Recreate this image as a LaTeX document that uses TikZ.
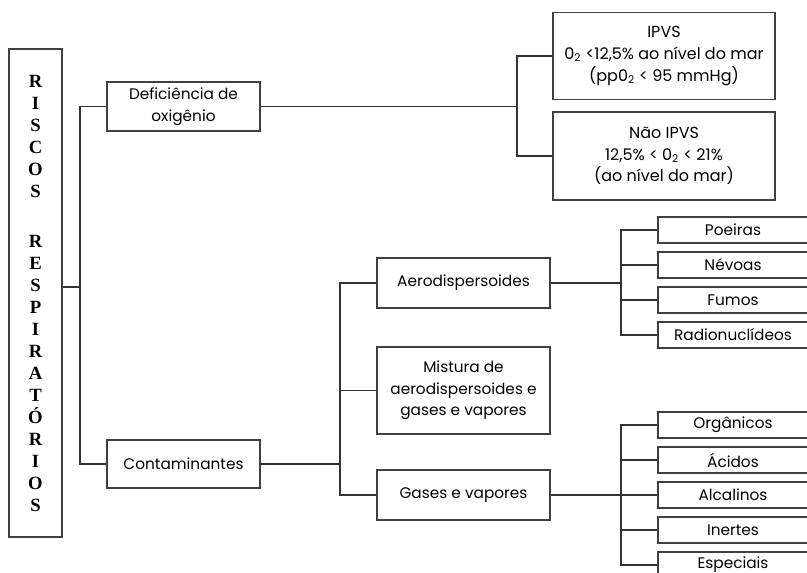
\documentclass[tikz,border=0pt]{standalone}
\usepackage{fontspec}
\setmainfont{Poppins}
\newfontfamily\riscosfont{Liberation Serif}
\usetikzlibrary{positioning}

\tikzset{
  box/.style={draw=black!75, line width=0.8pt, inner sep=0pt, align=center,
    font=\fontsize{11.5}{16.2}\selectfont},
  item/.style={box, minimum width=112.5pt, minimum height=19.5pt},
  wire/.style={draw=black!80, line width=0.8pt},
}

\begin{document}
\begin{tikzpicture}[x=0.75pt, y=-0.75pt]
      \path[use as bounding box] (0, 0) rectangle (807, 573);

      \node[box, minimum width=39.75pt, minimum height=366pt,
        font=\riscosfont\bfseries\fontsize{14}{16.5}\selectfont] (riscos) at (35.5, 293)
        {R\\I\\S\\C\\O\\S\\[21pt]R\\E\\S\\P\\I\\R\\A\\T\\Ó\\R\\I\\O\\S};

      \node[box, minimum width=114.75pt, minimum height=36.75pt] (defi) at (183.5, 106.5) {Deficiência de\\oxigênio};
      \node[box, minimum width=114.75pt, minimum height=36pt] (cont) at (183.5, 464) {Contaminantes};

      \node[box, minimum width=166.5pt, minimum height=65.25pt, font=\fontsize{12}{16.2}\selectfont] (ipvs) at (664, 56)
        {IPVS\\0\textsubscript{2} <12,5\% ao nível do mar\\(pp0\textsubscript{2} < 95 mmHg)};
      \node[box, minimum width=166.5pt, minimum height=66pt, font=\fontsize{12}{16.2}\selectfont] (nipvs) at (664, 156)
        {Não IPVS\\12,5\% < 0\textsubscript{2} < 21\%\\(ao nível do mar)};

      \node[box, minimum width=129.75pt, minimum height=37.5pt] (aero) at (463.5, 283) {Aerodispersoides};
      \node[box, minimum width=129.75pt, minimum height=65.25pt] (mist) at (463.5, 390.5) {Mistura de\\aerodispersoides e\\gases e vapores};
      \node[box, minimum width=129.75pt, minimum height=37.5pt] (gases) at (463.5, 495) {Gases e vapores};

      \foreach \name/\txt/\yy in {poe/Poeiras/230, nev/Névoas/265, fum/Fumos/300, rad/Radionuclídeos/335}
        \node[item] (\name) at (733, \yy) {\txt};
      \foreach \name/\txt/\yy in {org/Orgânicos/425, aci/Ácidos/460, alc/Alcalinos/495, ine/Inertes/530, esp/Especiais/565}
        \node[item] (\name) at (733, \yy) {\txt};

      % junctions
      \coordinate (j1) at (80, 287);
      \coordinate (j2) at (517, 106.5);
      \coordinate (j3) at (340, 464);
      \coordinate (j4) at (621, 283);
      \coordinate (j5) at (621, 495);

      \draw[wire] (j1 -| riscos.east) -- (j1);
      \foreach \n in {defi, cont}
        \draw[wire] (j1) |- (\n.west);

      \draw[wire] (defi.east) -- (j2);
      \foreach \n in {ipvs, nipvs}
        \draw[wire] (j2) |- (\n.west);

      \draw[wire] (cont.east) -- (j3);
      \foreach \n in {aero, mist, gases}
        \draw[wire] (j3) |- (\n.west);

      \draw[wire] (aero.east) -- (j4);
      \foreach \n in {poe, nev, fum, rad}
        \draw[wire] (j4) |- (\n.west);

      \draw[wire] (gases.east) -- (j5);
      \foreach \n in {org, aci, alc, ine, esp}
        \draw[wire] (j5) |- (\n.west);
\end{tikzpicture}
\end{document}
